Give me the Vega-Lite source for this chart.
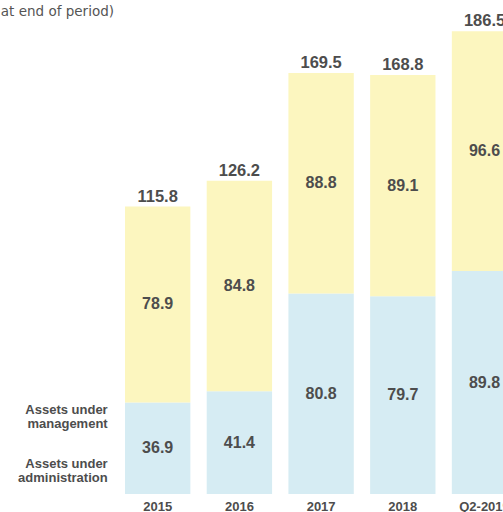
{
  "$schema": "https://vega.github.io/schema/vega-lite/v6.json",
  "width": 503,
  "height": 494,
  "autosize": {"type": "none"},
  "padding": {"left": 0, "top": 0, "right": 0, "bottom": 18},
  "background": "white",
  "config": {"view": {"stroke": null}, "font": "Liberation Sans"},
  "title": {"text": "(CHF bn, at end of period)", "anchor": "start", "align": "right", "dx": 114, "dy": 33, "baseline": "alphabetic", "fontSize": 13.5, "fontWeight": "normal", "color": "#555555", "font": "DejaVu Sans"},
  "datasets": {
    "segments": [
      {"period": "2015", "series": "Assets under administration", "value": 36.9},
      {"period": "2015", "series": "Assets under management", "value": 78.9},
      {"period": "2016", "series": "Assets under administration", "value": 41.4},
      {"period": "2016", "series": "Assets under management", "value": 84.8},
      {"period": "2017", "series": "Assets under administration", "value": 80.8},
      {"period": "2017", "series": "Assets under management", "value": 88.8},
      {"period": "2018", "series": "Assets under administration", "value": 79.7},
      {"period": "2018", "series": "Assets under management", "value": 89.1},
      {"period": "Q2-2019", "series": "Assets under administration", "value": 89.8},
      {"period": "Q2-2019", "series": "Assets under management", "value": 96.6}
    ],
    "totals": [
      {"period": "2015", "total": 115.8},
      {"period": "2016", "total": 126.2},
      {"period": "2017", "total": 169.5},
      {"period": "2018", "total": 168.8},
      {"period": "Q2-2019", "total": 186.5}
    ]
  },
  "layer": [
    {
      "data": {"name": "segments"},
      "mark": {"type": "bar"},
      "encoding": {
        "x": {"field": "period", "type": "nominal", "sort": null,
          "scale": {"range": [125, 517.2], "paddingInner": 0.2, "paddingOuter": 0},
          "axis": {"title": null, "domain": false, "ticks": false, "labelAngle": 0, "labelPadding": 6, "labelFontSize": 13, "labelFontWeight": "bold", "labelColor": "#4d4d4d", "labelFont": "Liberation Sans"}},
        "y": {"field": "value", "type": "quantitative", "stack": "zero",
          "scale": {"domain": [0, 199], "nice": false, "zero": true}, "axis": null},
        "color": {"field": "series", "type": "nominal",
          "scale": {"domain": ["Assets under administration", "Assets under management"], "range": ["#d6ecf3", "#fcf6bf"]},
          "legend": null},
        "order": {"field": "series", "sort": "ascending"}
      }
    },
    {
      "data": {"name": "segments"},
      "mark": {"type": "text", "font": "Liberation Sans", "fontSize": 16, "fontWeight": "bold", "color": "#4d4d4d", "baseline": "middle"},
      "encoding": {
        "x": {"field": "period", "type": "nominal", "sort": null},
        "y": {"field": "value", "type": "quantitative", "stack": "zero", "bandPosition": 0.5},
        "detail": {"field": "series"},
        "order": {"field": "series", "sort": "ascending"},
        "text": {"field": "value", "type": "quantitative", "format": ".1f"}
      }
    },
    {
      "data": {"name": "totals"},
      "mark": {"type": "text", "font": "Liberation Sans", "fontSize": 16.5, "fontWeight": "bold", "color": "#4d4d4d", "baseline": "alphabetic", "dy": -5},
      "encoding": {
        "x": {"field": "period", "type": "nominal", "sort": null},
        "y": {"field": "total", "type": "quantitative"},
        "text": {"field": "total", "type": "quantitative", "format": ".1f"}
      }
    },
    {
      "data": {"values": [{"label": "Assets under\nmanagement"}]},
      "mark": {"type": "text", "fontSize": 13, "fontWeight": "bold", "color": "#4d4d4d", "align": "right", "baseline": "middle", "lineBreak": "\n", "lineHeight": 14, "dx": -50},
      "encoding": {
        "x": {"datum": "2015"},
        "y": {"datum": 34},
        "text": {"field": "label"}
      }
    },
    {
      "data": {"values": [{"label": "Assets under\nadministration"}]},
      "mark": {"type": "text", "fontSize": 13, "fontWeight": "bold", "color": "#4d4d4d", "align": "right", "baseline": "middle", "lineBreak": "\n", "lineHeight": 14, "dx": -50},
      "encoding": {
        "x": {"datum": "2015"},
        "y": {"datum": 12},
        "text": {"field": "label"}
      }
    }
  ]
}
